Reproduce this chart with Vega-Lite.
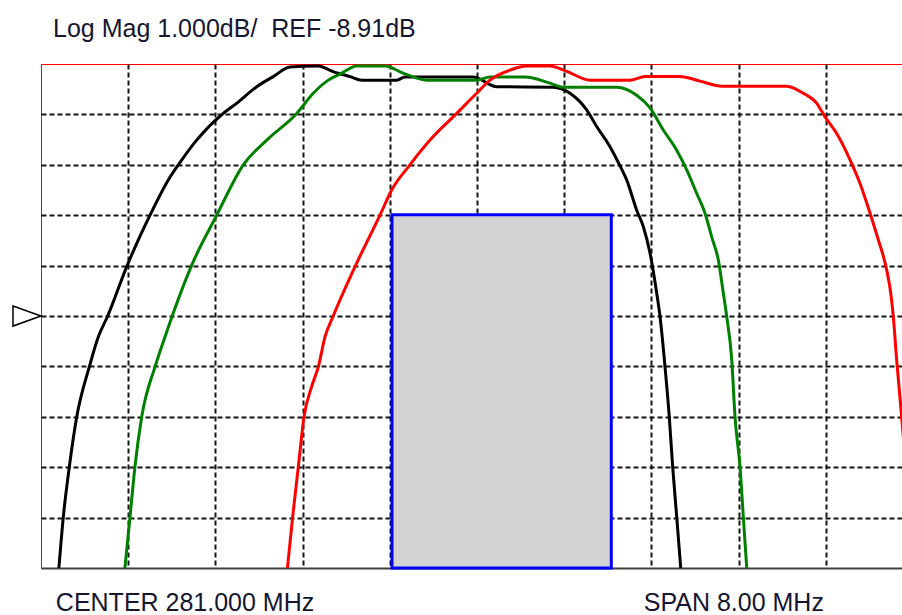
{
  "$schema": "https://vega.github.io/schema/vega-lite/v6.json",
  "autosize": "none",
  "padding": {"left": 41, "top": 64, "right": 0, "bottom": 47},
  "width": 861,
  "height": 504,
  "background": "white",
  "title": {
    "text": "Log Mag 1.000dB/\u00a0 REF -8.91dB",
    "anchor": "start",
    "frame": "group",
    "dx": 12,
    "offset": 2,
    "baseline": "alphabetic",
    "font": "Liberation Sans",
    "fontSize": 25,
    "fontWeight": "normal",
    "color": "#161630"
  },
  "config": {
    "view": {"stroke": "#ff0000", "strokeWidth": 1},
    "axis": {
      "labels": false,
      "ticks": false,
      "title": null,
      "grid": true,
      "gridColor": "#141414",
      "gridDash": [5, 3],
      "gridWidth": 2,
      "zindex": 1
    }
  },
  "datasets": {
    "traces": [
      {"trace": "1", "f": 277.161, "db": -13.99},
      {"trace": "1", "f": 277.205, "db": -12.89},
      {"trace": "1", "f": 277.260, "db": -11.90},
      {"trace": "1", "f": 277.328, "db": -10.91},
      {"trace": "1", "f": 277.443, "db": -9.92},
      {"trace": "1", "f": 277.526, "db": -9.32},
      {"trace": "1", "f": 277.610, "db": -8.92},
      {"trace": "1", "f": 277.792, "db": -7.90},
      {"trace": "1", "f": 278.000, "db": -6.91},
      {"trace": "1", "f": 278.168, "db": -6.21},
      {"trace": "1", "f": 278.260, "db": -5.91},
      {"trace": "1", "f": 278.428, "db": -5.42},
      {"trace": "1", "f": 278.672, "db": -4.89},
      {"trace": "1", "f": 278.795, "db": -4.69},
      {"trace": "1", "f": 278.979, "db": -4.36},
      {"trace": "1", "f": 279.131, "db": -4.16},
      {"trace": "1", "f": 279.284, "db": -3.97},
      {"trace": "1", "f": 279.541, "db": -3.95},
      {"trace": "1", "f": 279.679, "db": -4.06},
      {"trace": "1", "f": 279.835, "db": -4.16},
      {"trace": "1", "f": 279.945, "db": -4.23},
      {"trace": "1", "f": 280.263, "db": -4.23},
      {"trace": "1", "f": 280.339, "db": -4.17},
      {"trace": "1", "f": 280.963, "db": -4.17},
      {"trace": "1", "f": 281.181, "db": -4.36},
      {"trace": "1", "f": 281.697, "db": -4.37},
      {"trace": "1", "f": 281.853, "db": -4.49},
      {"trace": "1", "f": 282.006, "db": -4.82},
      {"trace": "1", "f": 282.098, "db": -5.15},
      {"trace": "1", "f": 282.220, "db": -5.55},
      {"trace": "1", "f": 282.312, "db": -5.93},
      {"trace": "1", "f": 282.373, "db": -6.21},
      {"trace": "1", "f": 282.465, "db": -6.81},
      {"trace": "1", "f": 282.526, "db": -7.14},
      {"trace": "1", "f": 282.587, "db": -7.66},
      {"trace": "1", "f": 282.649, "db": -8.46},
      {"trace": "1", "f": 282.679, "db": -8.92},
      {"trace": "1", "f": 282.725, "db": -9.92},
      {"trace": "1", "f": 282.764, "db": -10.91},
      {"trace": "1", "f": 282.795, "db": -11.90},
      {"trace": "1", "f": 282.832, "db": -12.89},
      {"trace": "1", "f": 282.872, "db": -13.99},

      {"trace": "2", "f": 277.766, "db": -13.99},
      {"trace": "2", "f": 277.817, "db": -12.89},
      {"trace": "2", "f": 277.862, "db": -11.90},
      {"trace": "2", "f": 277.924, "db": -10.91},
      {"trace": "2", "f": 278.046, "db": -9.92},
      {"trace": "2", "f": 278.138, "db": -9.32},
      {"trace": "2", "f": 278.202, "db": -8.92},
      {"trace": "2", "f": 278.383, "db": -7.90},
      {"trace": "2", "f": 278.612, "db": -6.91},
      {"trace": "2", "f": 278.856, "db": -5.91},
      {"trace": "2", "f": 279.071, "db": -5.42},
      {"trace": "2", "f": 279.346, "db": -4.89},
      {"trace": "2", "f": 279.498, "db": -4.49},
      {"trace": "2", "f": 279.636, "db": -4.23},
      {"trace": "2", "f": 279.743, "db": -4.11},
      {"trace": "2", "f": 279.899, "db": -3.95},
      {"trace": "2", "f": 280.156, "db": -3.95},
      {"trace": "2", "f": 280.321, "db": -4.09},
      {"trace": "2", "f": 280.539, "db": -4.23},
      {"trace": "2", "f": 280.997, "db": -4.23},
      {"trace": "2", "f": 281.119, "db": -4.17},
      {"trace": "2", "f": 281.440, "db": -4.17},
      {"trace": "2", "f": 281.670, "db": -4.29},
      {"trace": "2", "f": 281.789, "db": -4.37},
      {"trace": "2", "f": 282.282, "db": -4.37},
      {"trace": "2", "f": 282.465, "db": -4.53},
      {"trace": "2", "f": 282.587, "db": -4.78},
      {"trace": "2", "f": 282.709, "db": -5.22},
      {"trace": "2", "f": 282.832, "db": -5.62},
      {"trace": "2", "f": 282.924, "db": -6.01},
      {"trace": "2", "f": 283.016, "db": -6.48},
      {"trace": "2", "f": 283.092, "db": -6.87},
      {"trace": "2", "f": 283.153, "db": -7.34},
      {"trace": "2", "f": 283.214, "db": -7.80},
      {"trace": "2", "f": 283.260, "db": -8.46},
      {"trace": "2", "f": 283.291, "db": -8.92},
      {"trace": "2", "f": 283.337, "db": -9.78},
      {"trace": "2", "f": 283.367, "db": -10.91},
      {"trace": "2", "f": 283.413, "db": -11.90},
      {"trace": "2", "f": 283.443, "db": -12.89},
      {"trace": "2", "f": 283.477, "db": -13.99},

      {"trace": "3", "f": 279.257, "db": -13.99},
      {"trace": "3", "f": 279.309, "db": -12.89},
      {"trace": "3", "f": 279.361, "db": -11.90},
      {"trace": "3", "f": 279.413, "db": -10.91},
      {"trace": "3", "f": 279.483, "db": -10.31},
      {"trace": "3", "f": 279.544, "db": -9.92},
      {"trace": "3", "f": 279.606, "db": -9.32},
      {"trace": "3", "f": 279.679, "db": -8.92},
      {"trace": "3", "f": 279.881, "db": -7.93},
      {"trace": "3", "f": 280.110, "db": -6.91},
      {"trace": "3", "f": 280.217, "db": -6.41},
      {"trace": "3", "f": 280.385, "db": -5.91},
      {"trace": "3", "f": 280.569, "db": -5.42},
      {"trace": "3", "f": 280.814, "db": -4.89},
      {"trace": "3", "f": 280.997, "db": -4.49},
      {"trace": "3", "f": 281.119, "db": -4.23},
      {"trace": "3", "f": 281.303, "db": -4.03},
      {"trace": "3", "f": 281.456, "db": -3.95},
      {"trace": "3", "f": 281.670, "db": -3.95},
      {"trace": "3", "f": 281.807, "db": -4.04},
      {"trace": "3", "f": 282.037, "db": -4.23},
      {"trace": "3", "f": 282.404, "db": -4.23},
      {"trace": "3", "f": 282.541, "db": -4.16},
      {"trace": "3", "f": 282.862, "db": -4.16},
      {"trace": "3", "f": 283.046, "db": -4.25},
      {"trace": "3", "f": 283.248, "db": -4.35},
      {"trace": "3", "f": 283.841, "db": -4.35},
      {"trace": "3", "f": 283.994, "db": -4.49},
      {"trace": "3", "f": 284.117, "db": -4.69},
      {"trace": "3", "f": 284.193, "db": -4.96},
      {"trace": "3", "f": 284.300, "db": -5.29},
      {"trace": "3", "f": 284.422, "db": -5.81},
      {"trace": "3", "f": 284.514, "db": -6.28},
      {"trace": "3", "f": 284.606, "db": -6.87},
      {"trace": "3", "f": 284.682, "db": -7.40},
      {"trace": "3", "f": 284.759, "db": -8.00},
      {"trace": "3", "f": 284.796, "db": -8.46},
      {"trace": "3", "f": 284.819, "db": -8.92},
      {"trace": "3", "f": 284.850, "db": -9.78},
      {"trace": "3", "f": 284.896, "db": -10.91},
      {"trace": "3", "f": 284.936, "db": -11.97}
    ],
    "mask": [
      {"f1": 280.22, "f2": 282.232, "top": -6.9, "bottom": -13.91}
    ],
    "labels": [
      {"label": "CENTER 281.000 MHz", "f": 277.136, "db": -14.76},
      {"label": "SPAN 8.00 MHz", "f": 282.53, "db": -14.76}
    ],
    "ref": [
      {"ref": -8.91}
    ]
  },
  "encoding": {},
  "layer": [
    {
      "data": {"name": "mask"},
      "mark": {"type": "rect", "fill": "#d3d3d3", "stroke": "#0000ff", "strokeWidth": 3},
      "encoding": {
        "x": {"field": "f1", "type": "quantitative", "scale": {"domain": [277, 284.899], "nice": false, "zero": false},
              "axis": {"values": [277.8, 278.6, 279.4, 280.2, 281.0, 281.8, 282.6, 283.4, 284.2], "domain": true, "domainColor": "#404040", "domainWidth": 2, "orient": "bottom"}},
        "x2": {"field": "f2"},
        "y": {"field": "top", "type": "quantitative", "scale": {"domain": [-13.91, -3.91], "nice": false, "zero": false},
              "axis": {"values": [-12.91, -11.91, -10.91, -9.91, -8.91, -7.91, -6.91, -5.91, -4.91], "domain": false}},
        "y2": {"field": "bottom"}
      }
    },
    {
      "data": {"name": "traces"},
      "mark": {"type": "line", "strokeWidth": 3, "clip": true, "interpolate": "monotone"},
      "encoding": {
        "x": {"field": "f", "type": "quantitative", "scale": {"domain": [277, 284.899], "nice": false, "zero": false}},
        "y": {"field": "db", "type": "quantitative", "scale": {"domain": [-13.91, -3.91], "nice": false, "zero": false}},
        "color": {"field": "trace", "type": "nominal", "scale": {"domain": ["1", "2", "3"], "range": ["#000000", "#008000", "#ff0000"]}, "legend": null},
        "order": {"field": "f", "type": "quantitative"}
      }
    },
    {
      "data": {"name": "labels"},
      "mark": {"type": "text", "align": "left", "baseline": "alphabetic", "font": "Liberation Sans", "fontSize": 25, "color": "#161630"},
      "encoding": {
        "x": {"field": "f", "type": "quantitative", "scale": {"domain": [277, 284.899], "nice": false, "zero": false}},
        "y": {"field": "db", "type": "quantitative", "scale": {"domain": [-13.91, -3.91], "nice": false, "zero": false}},
        "text": {"field": "label"}
      }
    },
    {
      "data": {"name": "ref"},
      "mark": {"type": "point", "shape": "M -1 -0.72 L 1 0 L -1 0.72 Z", "size": 784, "filled": false, "fill": "white", "fillOpacity": 1, "stroke": "#000000", "strokeWidth": 1.5, "opacity": 1, "xOffset": -14},
      "encoding": {
        "x": {"datum": 277, "type": "quantitative", "scale": {"domain": [277, 284.899], "nice": false, "zero": false}},
        "y": {"field": "ref", "type": "quantitative", "scale": {"domain": [-13.91, -3.91], "nice": false, "zero": false}}
      }
    }
  ]
}
